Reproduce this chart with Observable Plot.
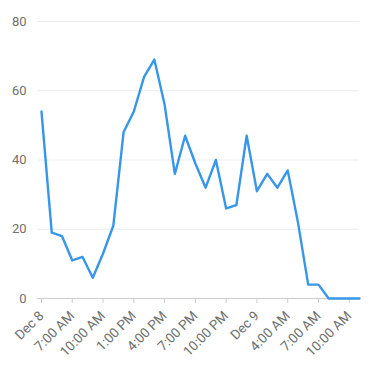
<!DOCTYPE html>
<html>
<head>
<meta charset="utf-8">
<script src="https://cdn.jsdelivr.net/npm/d3@7"></script>
<script src="https://cdn.jsdelivr.net/npm/@observablehq/plot@0.6"></script>
<style>
  html, body { margin: 0; padding: 0; background: #fff; }
</style>
</head>
<body>
<div id="chart"></div>
<script>
const values = [54, 19, 18, 11, 12, 6, 13, 21, 48, 54, 64, 69, 56, 36, 47, 39, 32, 40, 26, 27, 47, 31, 36, 32, 37, 22, 4, 4, 0, 0, 0, 0];
const tickHours = [0, 3, 6, 9, 12, 15, 18, 21, 24, 27, 30];
const tickLabels = ["Dec 8", "7:00 AM", "10:00 AM", "1:00 PM", "4:00 PM", "7:00 PM", "10:00 PM", "Dec 9", "4:00 AM", "7:00 AM", "10:00 AM"];
const yTicks = [0, 20, 40, 60, 80];

const data = values.map((v, i) => ({hour: i, value: v}));

const chart = Plot.plot({
  width: 376,
  height: 368,
  marginLeft: 37,
  marginRight: 17,
  marginTop: 21,
  marginBottom: 70,
  style: {fontFamily: "Roboto, sans-serif", fontSize: "12px", color: "#707070", background: "#fff"},
  x: {domain: [0, 31], insetLeft: 4},
  y: {domain: [0, 80]},
  marks: [
    Plot.gridY(yTicks.slice(1), {stroke: "#ebebeb", strokeOpacity: 1}),
    Plot.axisY(yTicks, {tickSize: 0, tickPadding: 11, label: null, fill: "#707070"}),
    Plot.axisX(tickHours, {
      tickFormat: d => tickLabels[tickHours.indexOf(d)],
      tickRotate: -45,
      tickSize: 5,
      tickPadding: 10,
      stroke: "#ccc",
      strokeOpacity: 1,
      fill: "#707070",
      label: null
    }),
    Plot.ruleY([0], {stroke: "#ccc"}),
    Plot.lineY(data, {x: "hour", y: "value", stroke: "#3896e8", strokeWidth: 2.4})
  ]
});
chart.querySelectorAll('g[aria-label="x-axis tick label"] text').forEach(t => t.style.fontSize = "13.5px");
chart.querySelectorAll('g[aria-label="y-axis tick label"] text').forEach(t => t.style.fontSize = "13px");
document.getElementById("chart").appendChild(chart);
</script>
</body>
</html>
